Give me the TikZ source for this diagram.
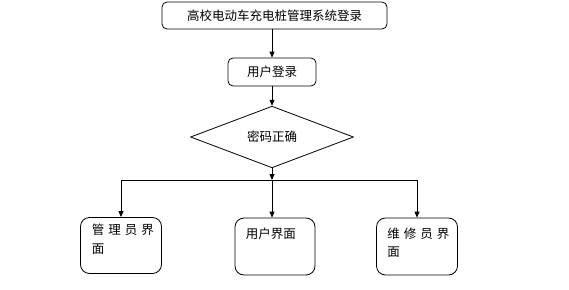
\documentclass[tikz,border=0pt]{standalone}
\usepackage{fontspec}
\setmainfont{Noto Sans CJK SC}
\usetikzlibrary{shapes.geometric, arrows.meta, positioning}

\tikzset{
  flowbox/.style={rectangle, draw, line width=0.8pt, rounded corners=5pt, inner sep=0pt},
  pagebox/.style={rectangle, draw, line width=0.8pt, rounded corners=9pt, minimum width=81pt, minimum height=56pt},
  pagetext/.style={anchor=north west, align=left, inner sep=0pt, font=\fontsize{12.5}{18.5}\selectfont},
  flowarrow/.style={-{Triangle[width=5pt,length=6pt]}, line width=0.8pt},
}

\begin{document}
\begin{tikzpicture}[x=1pt, y=-1pt, font=\fontsize{12.5}{14}\selectfont]
        \useasboundingbox (0,0) rectangle (569,289);

        % Login steps
        \node[flowbox, minimum width=225pt, minimum height=27pt] (title) at (274.5,15.5) {高校电动车充电桩管理系统登录};
        \node[flowbox, minimum width=88pt, minimum height=28pt] (login) at (272,72) {用户登录};
        \node[diamond, draw, line width=0.8pt, minimum width=163pt, minimum height=48pt, inner sep=0pt] (check) at (272,137) {密码正确};

        % Branch line
        \coordinate (bus) at (272,180);
        \coordinate (busL) at (121,180);
        \coordinate (busR) at (417,180);

        % Pages
        \node[pagebox] (admin) at (121,245.5) {};
        \node[pagetext] (admintext) at ([xshift=11.5pt,yshift=-7pt]admin.north west) {管\hspace{4pt}理\hspace{4pt}员\hspace{4pt}界\\面};
        \node[pagebox, minimum width=80pt, minimum height=57pt] (user) at (275,246.5) {};
        \node[pagetext] (usertext) at ([xshift=11pt,yshift=-10pt]user.north west) {用户界面};
        \node[pagebox, minimum height=57pt] (repair) at (417,246.5) {};
        \node[pagetext] (repairtext) at ([xshift=11pt,yshift=-10pt]repair.north west) {维\hspace{4pt}修\hspace{4pt}员\hspace{4pt}界\\面};

        % Arrows
        \draw[flowarrow] (login.north |- title.south) -- (login.north);
        \draw[flowarrow] (login.south) -- (check.north);
        \draw[flowarrow] (check.south) -- (bus);
        \draw[line width=0.8pt] (busL) -- (busR);
        \draw[flowarrow] (busL) -- (admin.north);
        \draw[flowarrow] (bus) -- (bus |- user.north);
        \draw[flowarrow] (busR) -- (repair.north);
    \end{tikzpicture}
\end{document}
